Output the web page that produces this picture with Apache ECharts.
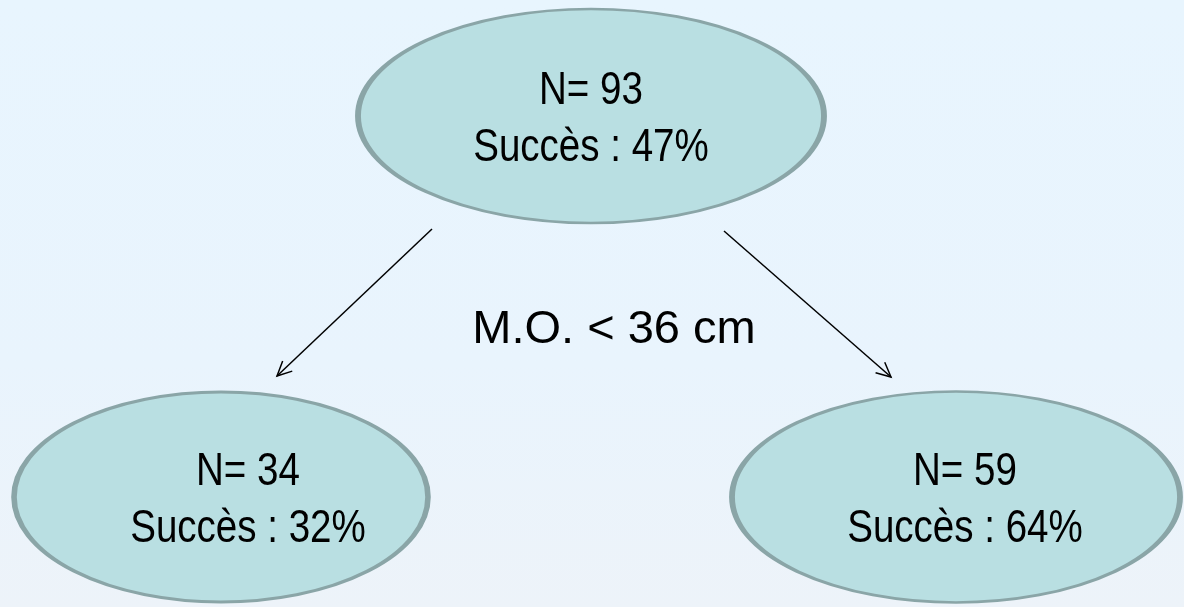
<!DOCTYPE html>
<html>
<head>
<meta charset="utf-8">
<script src="https://cdn.jsdelivr.net/npm/echarts@6/dist/echarts.min.js"></script>
<style>
html,body{margin:0;padding:0;width:1184px;height:607px;overflow:hidden;}
#chart{width:1184px;height:607px;}
</style>
</head>
<body>
<div id="chart"></div>
<script>
// ---- data ----
const nodeNames = ['racine', 'gauche', 'droite'];
const nodeN = [93, 34, 59];
const nodeSuccess = [47, 32, 64];
const splitLabel = 'M.O. < 36 cm';
const edges = [[0, 1], [0, 2]];

// ---- layout (positions/sizes, in a page-sized coordinate space) ----
const nodeCenter = [[591, 116], [221, 497], [956, 497]];
const nodeSize = [[466, 214], [414, 210], [448, 211]];
const labelDx = [0, 27, 9];
const arrowSeg = [[[432, 229], [277, 376]], [[724, 231], [891, 377]]];
const splitPos = [614, 330];

const chart = echarts.init(document.getElementById('chart'));

const nodeData = nodeNames.map((nm, i) => ({
  name: nm,
  value: nodeCenter[i],
  symbolSize: nodeSize[i]
}));

const labelData = nodeNames.map((nm, i) => [nodeCenter[i][0] + labelDx[i], nodeCenter[i][1], i]);
const arrowData = edges.map((e, k) => [arrowSeg[k][0][0], arrowSeg[k][0][1], arrowSeg[k][1][0], arrowSeg[k][1][1]]);

const FONT = '"Liberation Sans", Arial, sans-serif';

chart.setOption({
  animation: false,
  backgroundColor: {
    type: 'linear', x: 0, y: 0, x2: 0, y2: 1,
    colorStops: [
      { offset: 0, color: '#e8f5fe' },
      { offset: 0.6, color: '#e9f4fd' },
      { offset: 1, color: '#edf3f9' }
    ]
  },
  grid: { left: 0, right: 0, top: 0, bottom: 0 },
  xAxis: { type: 'value', min: 0, max: 1184, show: false },
  yAxis: { type: 'value', min: 0, max: 607, inverse: true, show: false },
  series: [
    {
      type: 'scatter',
      symbol: 'circle',
      z: 2,
      itemStyle: {
        color: '#b9dfe2',
        borderColor: '#8aa5a7',
        borderWidth: 4,
        opacity: 1
      },
      emphasis: { disabled: true },
      data: nodeData
    },
    {
      type: 'custom',
      z: 3,
      data: labelData,
      renderItem: function (params, api) {
        const i = api.value(2);
        const p = api.coord([api.value(0), api.value(1)]);
        const mk = (txt, dy) => ({
          type: 'text',
          x: p[0], y: p[1] + dy,
          scaleX: 0.82,
          style: {
            text: txt,
            x: 0, y: 0,
            fill: '#000',
            font: '47px ' + FONT,
            textAlign: 'center',
            textVerticalAlign: 'middle'
          }
        });
        return {
          type: 'group',
          children: [
            mk('N= ' + nodeN[i], -25),
            mk('Succès : ' + nodeSuccess[i] + '%', 32)
          ]
        };
      }
    },
    {
      type: 'custom',
      z: 3,
      data: arrowData,
      renderItem: function (params, api) {
        const a = api.coord([api.value(0), api.value(1)]);
        const b = api.coord([api.value(2), api.value(3)]);
        const ang = Math.atan2(b[1] - a[1], b[0] - a[0]);
        const L = 16, w = 0.45;
        const h1 = [b[0] - L * Math.cos(ang - w), b[1] - L * Math.sin(ang - w)];
        const h2 = [b[0] - L * Math.cos(ang + w), b[1] - L * Math.sin(ang + w)];
        const st = { stroke: '#000', lineWidth: 1.5, fill: null };
        return {
          type: 'group',
          children: [
            { type: 'line', shape: { x1: a[0], y1: a[1], x2: b[0], y2: b[1] }, style: st },
            { type: 'polyline', shape: { points: [h1, b, h2] }, style: st }
          ]
        };
      }
    },
    {
      type: 'custom',
      z: 3,
      data: [splitPos],
      renderItem: function (params, api) {
        const p = api.coord([api.value(0), api.value(1)]);
        return {
          type: 'text',
          x: p[0], y: p[1],
          style: {
            text: splitLabel,
            fill: '#000',
            font: '47px ' + FONT,
            textAlign: 'center',
            textVerticalAlign: 'middle'
          }
        };
      }
    }
  ]
});
</script>
</body>
</html>
